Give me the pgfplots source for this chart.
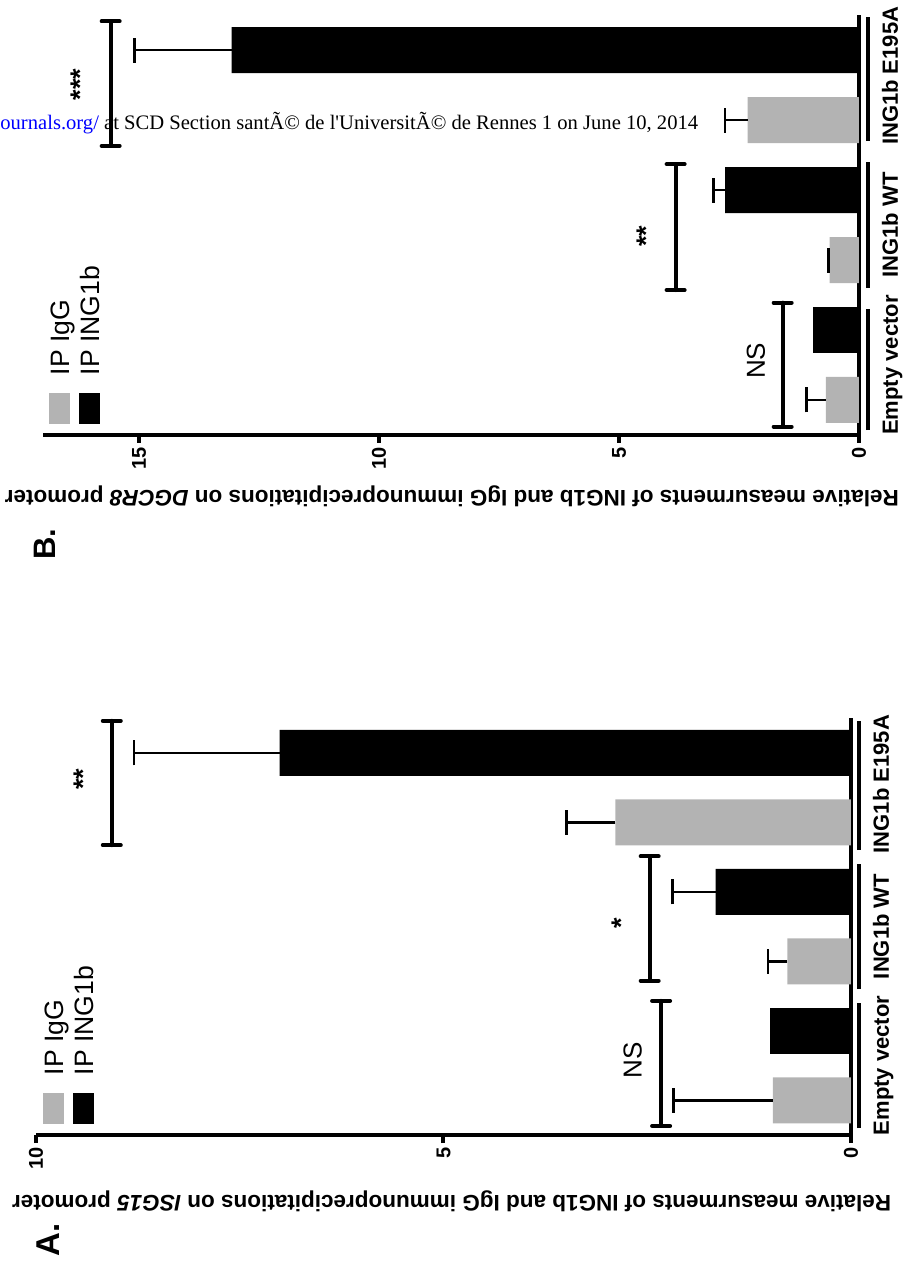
\documentclass[border=0pt]{standalone}
\usepackage{pgfplots}
\pgfplotsset{compat=1.18}
\usepackage{fontspec}
\setmainfont{Liberation Sans}
\newfontfamily\wmfont{Liberation Serif}
\definecolor{igg}{HTML}{B3B3B3}
\definecolor{wmblue}{HTML}{0000FF}

\pgfplotsset{
  panel/.style={
    scale only axis, anchor=south west,
    xmin=0.5, xmax=6.5, ymin=0,
    axis x line*=bottom, axis y line*=left,
    axis line style={line width=2pt, black},
    xtick=\empty,
    major tick length=4pt, tick align=outside,
    ytick style={line width=2pt, black},
    yticklabel style={font=\bfseries\fontsize{10}{12}\selectfont, inner sep=2pt},
    /pgf/number format/assume math mode=true,
    ylabel style={font=\bfseries\fontsize{11.25}{13}\selectfont, anchor=base},
    clip=false,
    legend style={draw=none, fill=none, inner sep=0pt, outer sep=0pt, row sep=2pt,
       font=\fontsize{13.3}{15}\selectfont,
       nodes={inner sep=0pt, text height=10pt, text depth=3pt, anchor=base west}},
    legend cell align=left,
  },
  plain bar/.style={ybar, bar width=23pt, bar shift=0pt, draw=none},
  err/.style={
    error bars/y dir=plus, error bars/y explicit,
    error bars/error mark=|,
    error bars/error bar style={line width=1.25pt, black},
    error bars/error mark options={mark size=6.25pt, line width=1.25pt, black}},
  bracket/.style={black, line width=2pt, line cap=round, mark=|, mark size=4.5pt,
    mark options={line width=2pt, line cap=round, solid}},
}
\tikzset{
  catlabel/.style={font=\bfseries\fontsize{11}{13}\selectfont, anchor=base, inner sep=0pt},
  sig/.style={font=\fontsize{13}{15}\selectfont, anchor=base, inner sep=0pt},
  star/.style={font=\bfseries\fontsize{13.5}{15}\selectfont, anchor=base, inner sep=0pt},
  uline/.style={line width=2pt, black},
}

\begin{document}
\begin{tikzpicture}
\useasboundingbox (-452pt,0pt) rectangle (0pt,633pt);
\begin{scope}[rotate=90, transform shape]

% ---------------- Panel A ----------------
\begin{axis}[panel, at={(65.5pt,26.5pt)}, width=208.5pt, height=407.5pt,
  ymax=10, ytick={0,5,10},
  ylabel={Relative measurments of ING1b and IgG immunoprecipitations on \textit{ISG15} promoter},
  ylabel style={at={(axis description cs:-0.144,0.49)}},
  legend style={at={(axis description cs:0.0264,0.9914)}, anchor=north west}]
\addlegendimage{legend image code/.code={\fill[igg] (0pt,0pt) rectangle (15pt,10pt); \path (24pt,0pt);}}
\addlegendentry{IP IgG}
\addlegendimage{legend image code/.code={\fill[black] (0pt,0pt) rectangle (15pt,10pt); \path (24pt,0pt);}}
\addlegendentry{IP ING1b}
% IP IgG
\addplot[plain bar, fill=igg, err] coordinates {(1,0.96) +- (0,1.22) (3,0.78) +- (0,0.24) (5,2.89) +- (0,0.60)};
% IP ING1b
\addplot[plain bar, fill=black] coordinates {(2,0.99)};
\addplot[plain bar, fill=black, err] coordinates {(4,1.66) +- (0,0.53) (6,7.01) +- (0,1.79)};
% significance brackets
\addplot[bracket] coordinates {(0.63,2.33) (2.43,2.33)};
\addplot[bracket] coordinates {(2.72,2.47) (4.51,2.47)};
\addplot[bracket] coordinates {(4.67,9.07) (6.46,9.07)};
\node[sig] at (axis cs:1.57,2.57) {NS};
\node[star] at (axis cs:3.55,2.70) {*};
\node[star] at (axis cs:5.62,9.31) {**};
\draw[uline] ([yshift=-4.25pt]axis cs:0.6,0) -- ([yshift=-4.25pt]axis cs:2.4,0);
\draw[uline] ([yshift=-4.25pt]axis cs:2.6,0) -- ([yshift=-4.25pt]axis cs:4.4,0);
\draw[uline] ([yshift=-4.25pt]axis cs:4.6,0) -- ([yshift=-4.25pt]axis cs:6.45,0);
\node[catlabel] at ([yshift=-19pt]axis cs:1.5,0) {Empty vector};
\node[catlabel] at ([yshift=-19pt]axis cs:3.5,0) {ING1b WT};
\node[catlabel] at ([yshift=-19pt]axis cs:5.55,0) {ING1b E195A};
\end{axis}

% ---------------- Panel B ----------------
\begin{axis}[panel, at={(415.5pt,22.5pt)}, width=210pt, height=408pt,
  ymax=17, ytick={0,5,10,15},
  ylabel={Relative measurments of ING1b and IgG immunoprecipitations on \textit{DGCR8} promoter},
  ylabel style={at={(axis description cs:-0.131,0.499)}},
  legend style={at={(axis description cs:0.0262,0.9926)}, anchor=north west}]
\addlegendimage{legend image code/.code={\fill[igg] (0pt,0pt) rectangle (15pt,10pt); \path (24pt,0pt);}}
\addlegendentry{IP IgG}
\addlegendimage{legend image code/.code={\fill[black] (0pt,0pt) rectangle (15pt,10pt); \path (24pt,0pt);}}
\addlegendentry{IP ING1b}
% IP IgG
\addplot[plain bar, fill=igg, err] coordinates {(1,0.69) +- (0,0.40) (3,0.61) +- (0,0.03) (5,2.32) +- (0,0.47)};
% IP ING1b
\addplot[plain bar, fill=black] coordinates {(2,0.96)};
\addplot[plain bar, fill=black, err] coordinates {(4,2.79) +- (0,0.24) (6,13.07) +- (0,2.02)};
% significance brackets
\addplot[bracket] coordinates {(0.62,1.59) (2.39,1.59)};
\addplot[bracket] coordinates {(2.57,3.82) (4.37,3.82)};
\addplot[bracket] coordinates {(4.63,15.59) (6.41,15.59)};
\node[sig] at (axis cs:1.56,1.96) {NS};
\node[star] at (axis cs:3.34,4.24) {**};
\node[star] at (axis cs:5.51,16.03) {***};
\draw[uline] ([yshift=-4.5pt]axis cs:0.57,0) -- ([yshift=-4.5pt]axis cs:2.3,0);
\draw[uline] ([yshift=-4.5pt]axis cs:2.6,0) -- ([yshift=-4.5pt]axis cs:4.4,0);
\draw[uline] ([yshift=-4.5pt]axis cs:4.7,0) -- ([yshift=-4.5pt]axis cs:6.47,0);
\node[catlabel] at ([yshift=-19.5pt]axis cs:1.5,0) {Empty vector};
\node[catlabel] at ([yshift=-19.5pt]axis cs:3.5,0) {ING1b WT};
\node[catlabel] at ([yshift=-19.5pt]axis cs:5.63,0) {ING1b E195A};
\end{axis}

\node[font=\bfseries\fontsize{16.5}{18}\selectfont, anchor=base west, inner sep=0pt] at (4.5pt,422pt) {A.};
\node[font=\bfseries\fontsize{15.5}{17}\selectfont, anchor=base west, inner sep=0pt] at (353pt,424pt) {B.};
\end{scope}

% watermark (horizontal in the final page)
\node[font=\wmfont\fontsize{10.3}{12}\selectfont, anchor=base west, inner sep=0pt]
  at (-452pt,568pt) {\textcolor{wmblue}{ournals.org/} at SCD Section santÃ© de l'UniversitÃ© de Rennes 1 on June 10, 2014};
\end{tikzpicture}
\end{document}
